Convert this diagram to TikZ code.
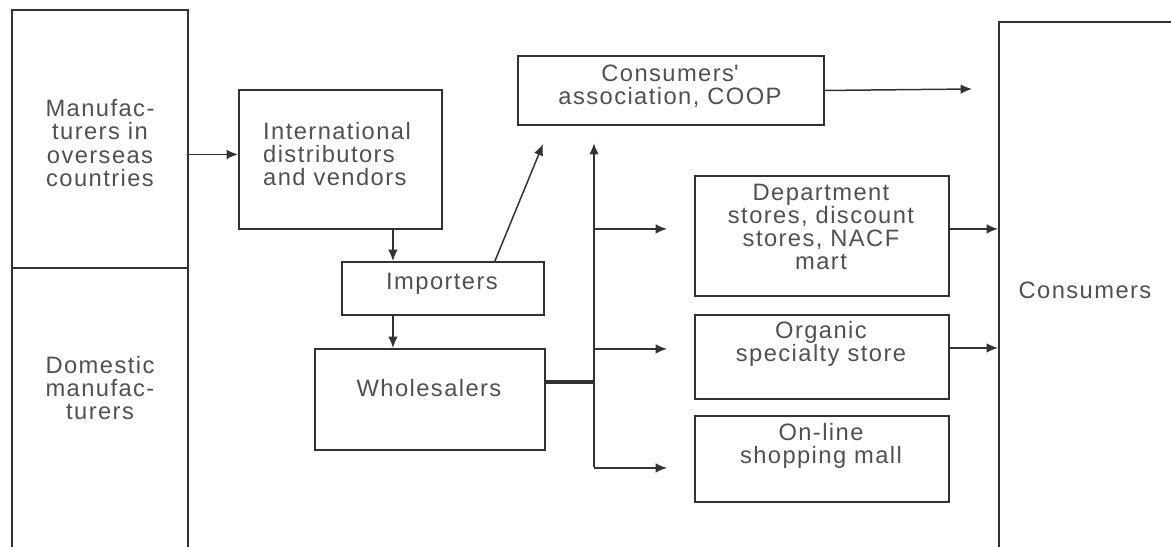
\documentclass[tikz,border=0pt]{standalone}
\usepackage{fontspec}
\setmainfont{Liberation Sans}[LetterSpace=6]
\usetikzlibrary{arrows.meta, positioning}
\definecolor{linegray}{RGB}{50,50,50}
\definecolor{textgray}{RGB}{80,80,80}

\begin{document}
\begin{tikzpicture}[x=0.02cm, y=-0.02cm,
 box/.style={draw=linegray, line width=1.1pt, inner sep=0pt, anchor=north west},
 txt/.style={text=textgray, align=center, font=\fontsize{13.5}{13.2}\selectfont},
 arr/.style={draw=linegray, line width=0.85pt, -{Latex[length=6.5pt, width=5.5pt]}}]
 \useasboundingbox (0,0) rectangle (1171,547);
 \clip (0,0) rectangle (1171,547);
 % producers
 \node[box, minimum width=3.52cm, minimum height=5.16cm] (overseas) at (11,9){};
 \node[box, minimum width=3.52cm, minimum height=6cm] (domestic) at (11,267){};
 \node[txt] (overseastxt) at (100,143){Manufac-\\turers in\\overseas\\countries};
 \node[txt] (domestictxt) at (100,388){Domestic\\manufac-\\turers};
 % distribution chain
 \node[box, minimum width=4.06cm, minimum height=2.78cm] (intl) at (238,89){};
 \node[txt, align=left] (intltxt) at (337,154){International\\distributors\\and vendors};
 \node[box, minimum width=4.04cm, minimum height=1.06cm] (imp) at (341,261){};
 \node[txt] (imptxt) at (442,284){Importers};
 \node[box, minimum width=4.6cm, minimum height=2.02cm] (whole) at (314,348){};
 \node[txt] (wholetxt) at (429,388){Wholesalers};
 \node[box, minimum width=6.12cm, minimum height=1.38cm] (coop) at (517,55){};
 \node[txt] (cooptxt) at (670,86){Consumers\textquotesingle\\association, COOP};
 \foreach \n/\y/\h/\ty/\t in {dept/175/2.4/227/{Department\\stores, discount\\stores, NACF\\mart},
   org/314/1.68/344/{Organic\\specialty store}, online/415/1.72/446/{On-line\\shopping mall}}{
   \node[box, minimum width=5.08cm, minimum height=\h cm] (\n) at (694,\y){};
   \node[txt] (\n txt) at (821,\ty){\t};
 }
 \node[box, minimum width=5cm, minimum height=11cm] (cons) at (998,21){};
 \node[txt] (constxt) at (1085,290){Consumers};
 \coordinate (trunktop) at (594,143);
 \coordinate (trunkbot) at (594,467);
 \coordinate (diagtip) at (543,144);
 \coordinate (coopend) at (972,89);
 % connectors
 \draw[arr] ([yshift=0.1cm]overseas.east |- intl.west) -- ([yshift=0.1cm]intl.west);
 \draw[arr] ([xshift=1.05cm]intl.south) -- ([xshift=1.05cm]intl.south |- imp.north);
 \draw[arr] ([xshift=-1cm]imp.south) -- ([xshift=-1cm]imp.south |- whole.north);
 \draw[arr] ([xshift=1.04cm]imp.north) -- (diagtip);
 \draw[draw=linegray, line width=2pt] ([yshift=0.35cm]whole.east) -- ([yshift=0.35cm]whole.east -| trunktop);
 \draw[arr, line width=1.2pt] (trunkbot) -- (trunktop);
 \foreach \n/\s in {dept/0.14, org/0.16, online/-0.18}{
   \draw[arr] ([yshift=\s cm]trunktop |- \n.west) -- ([yshift=\s cm, xshift=-0.54cm]\n.west);
 }
 \draw[arr] (coop.east) -- (coopend);
 \draw[arr] ([yshift=0.14cm]dept.east) -- ([yshift=0.14cm]dept.east -| cons.west);
 \draw[arr] ([yshift=0.18cm]org.east) -- ([yshift=0.18cm]org.east -| cons.west);
\end{tikzpicture}
\end{document}
